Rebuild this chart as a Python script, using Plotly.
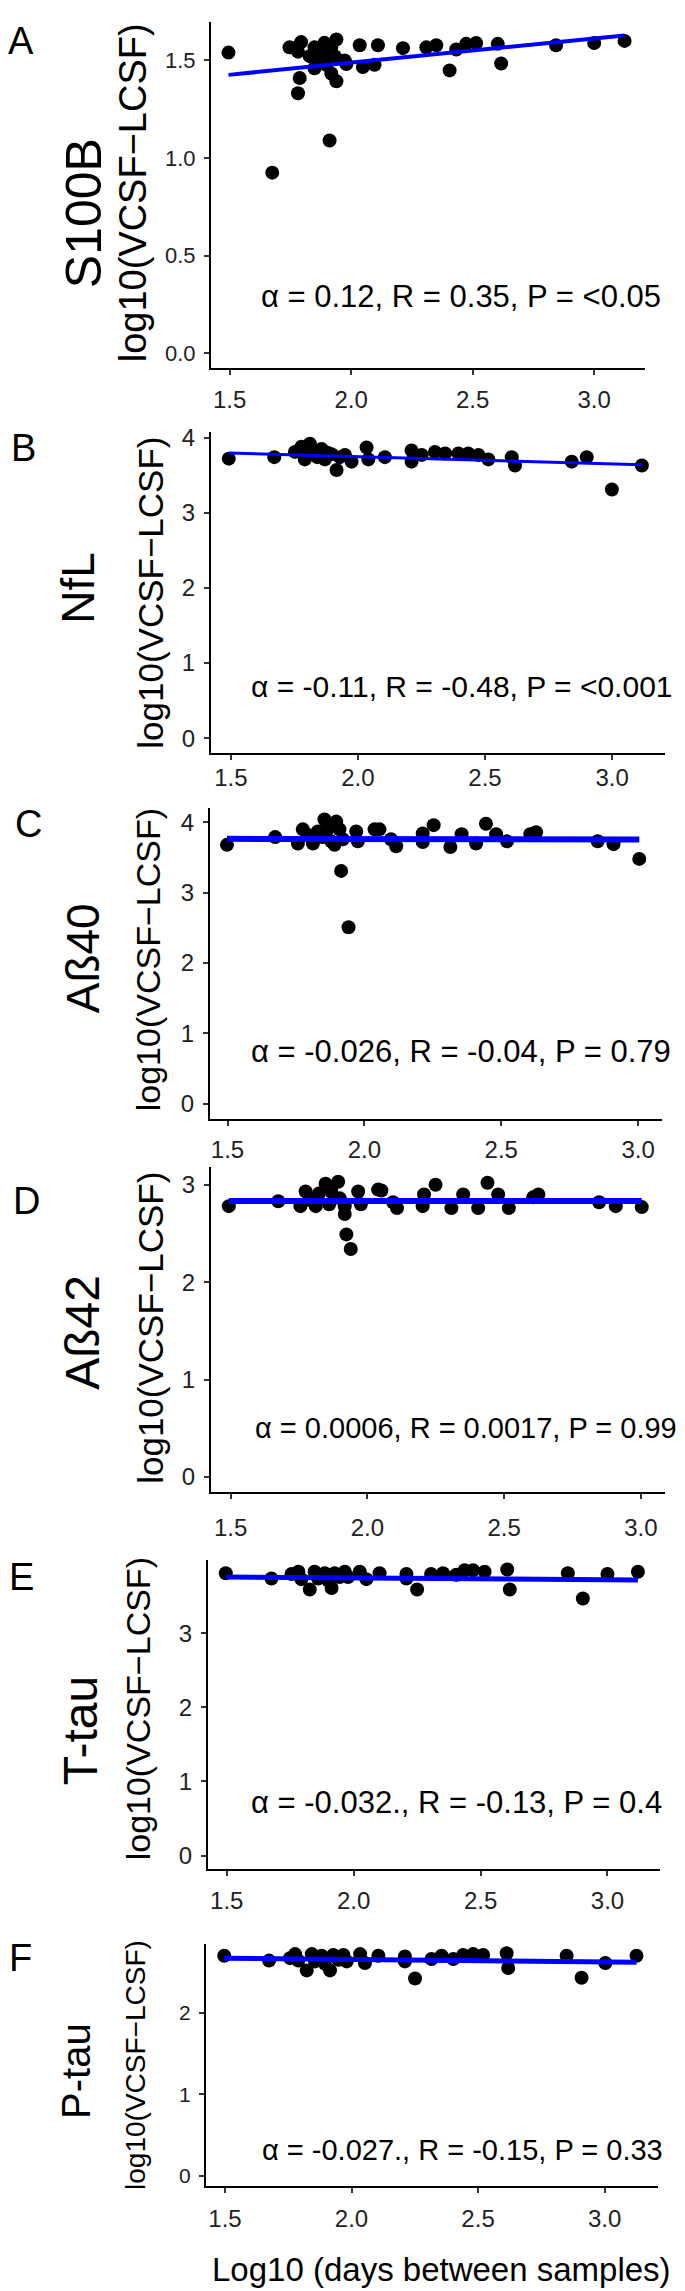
import plotly.graph_objects as go

# ---------------- data ----------------
panel_names = ["S100B", "NfL", "Aß40", "Aß42", "T-tau", "P-tau"]
panel_letters = ["A", "B", "C", "D", "E", "F"]
stat_texts = [
    "α = 0.12, R = 0.35, P = <0.05",
    "α = -0.11, R = -0.48, P = <0.001",
    "α = -0.026, R = -0.04, P = 0.79",
    "α = 0.0006, R = 0.0017, P = 0.99",
    "α = -0.032., R = -0.13, P = 0.4",
    "α = -0.027., R = -0.15, P = 0.33",
]
x_tickvals = [1.5, 2.0, 2.5, 3.0]
x_ticktext = ["1.5", "2.0", "2.5", "3.0"]
y_tickvals_A = [0.0, 0.5, 1.0, 1.5]
y_ticktext_A = ["0.0", "0.5", "1.0", "1.5"]
y_tickvals_BC = [0, 1, 2, 3, 4]
y_tickvals_DE = [0, 1, 2, 3]
y_tickvals_F = [0, 1, 2]

A_x = [1.495, 1.675, 1.746, 1.767, 1.794, 1.781, 1.788, 1.781, 1.829, 1.849, 1.862, 1.849, 1.883,
       1.890, 1.897, 1.918, 1.939, 1.932, 1.918, 1.939, 1.911, 1.973, 1.980, 2.035, 2.048, 2.096,
       2.110, 2.213, 2.309, 2.350, 2.405, 2.432, 2.473, 2.514, 2.603, 2.617, 2.843, 3.000, 3.125]
A_y = [1.540, 0.925, 1.567, 1.563, 1.594, 1.545, 1.410, 1.332, 1.522, 1.567, 1.500, 1.460, 1.534,
       1.590, 1.478, 1.567, 1.607, 1.522, 1.433, 1.393, 1.090, 1.500, 1.482, 1.578, 1.466, 1.478,
       1.578, 1.563, 1.567, 1.578, 1.449, 1.556, 1.585, 1.589, 1.585, 1.484, 1.578, 1.589, 1.600]
A_line_x = [1.495, 3.125]
A_line_y = [1.426, 1.628]

B_x = [1.492, 1.671, 1.752, 1.778, 1.811, 1.791, 1.831, 1.857, 1.870, 1.896, 1.916, 1.929, 1.949,
       1.975, 2.034, 2.041, 2.106, 2.211, 2.211, 2.251, 2.303, 2.343, 2.395, 2.434, 2.474, 2.513,
       2.605, 2.618, 2.841, 2.900, 2.999, 3.117, 1.800, 1.840, 1.880]
B_y = [3.72, 3.74, 3.81, 3.88, 3.92, 3.71, 3.82, 3.85, 3.71, 3.78, 3.57, 3.74, 3.77,
       3.68, 3.87, 3.71, 3.74, 3.83, 3.68, 3.77, 3.81, 3.79, 3.79, 3.79, 3.77, 3.71,
       3.74, 3.63, 3.68, 3.74, 3.31, 3.63, 3.76, 3.74, 3.80]
B_line_x = [1.492, 3.117]
B_line_y = [3.794, 3.639]

C_x = [1.498, 1.674, 1.757, 1.775, 1.794, 1.812, 1.830, 1.848, 1.854, 1.866, 1.879, 1.897, 1.891,
       1.909, 1.921, 1.915, 1.942, 1.970, 1.976, 2.037, 2.055, 2.097, 2.116, 2.213, 2.213, 2.253,
       2.314, 2.355, 2.408, 2.444, 2.481, 2.521, 2.606, 2.627, 2.852, 2.910, 3.004]
C_y = [3.68, 3.79, 3.70, 3.90, 3.82, 3.70, 3.87, 3.79, 4.04, 3.90, 3.73, 4.01, 3.68,
       3.90, 3.76, 3.31, 2.51, 3.87, 3.73, 3.90, 3.90, 3.76, 3.66, 3.84, 3.72, 3.96,
       3.65, 3.83, 3.70, 3.98, 3.83, 3.73, 3.83, 3.86, 3.73, 3.69, 3.48]
C_line_x = [1.498, 3.004]
C_line_y = [3.765, 3.755]

D_x = [1.493, 1.674, 1.755, 1.774, 1.792, 1.811, 1.823, 1.847, 1.860, 1.868, 1.893, 1.899, 1.917,
       1.917, 1.923, 1.939, 1.966, 1.976, 2.039, 2.051, 2.094, 2.108, 2.202, 2.207, 2.249, 2.307,
       2.350, 2.405, 2.439, 2.478, 2.517, 2.606, 2.625, 2.847, 2.908, 3.003]
D_y = [2.78, 2.83, 2.78, 2.93, 2.84, 2.78, 2.91, 3.01, 2.80, 2.93, 3.03, 2.86, 2.78,
       2.70, 2.49, 2.34, 2.93, 2.80, 2.95, 2.94, 2.82, 2.76, 2.78, 2.90, 3.00, 2.76,
       2.90, 2.76, 3.02, 2.90, 2.76, 2.87, 2.90, 2.82, 2.78, 2.77]
D_line_x = [1.493, 3.003]
D_line_y = [2.833, 2.833]

E_x = [1.496, 1.676, 1.755, 1.782, 1.794, 1.827, 1.846, 1.860, 1.886, 1.900, 1.913, 1.925, 1.945,
       1.965, 1.978, 2.024, 2.050, 2.102, 2.208, 2.208, 2.250, 2.305, 2.352, 2.404, 2.437, 2.470,
       2.516, 2.605, 2.615, 2.844, 2.903, 3.000, 3.120]
E_y = [3.81, 3.74, 3.80, 3.83, 3.73, 3.59, 3.83, 3.74, 3.81, 3.71, 3.61, 3.81, 3.76,
       3.83, 3.76, 3.83, 3.73, 3.81, 3.80, 3.74, 3.59, 3.80, 3.81, 3.79, 3.85, 3.85,
       3.83, 3.86, 3.59, 3.81, 3.47, 3.80, 3.83]
E_line_x = [1.496, 3.120]
E_line_y = [3.76, 3.72]

F_x = [1.497, 1.674, 1.757, 1.777, 1.790, 1.823, 1.843, 1.856, 1.882, 1.895, 1.915, 1.928, 1.948,
       1.968, 1.981, 2.034, 2.053, 2.106, 2.211, 2.211, 2.251, 2.316, 2.356, 2.402, 2.441, 2.481,
       2.520, 2.613, 2.619, 2.850, 2.909, 3.003, 3.126]
F_y = [2.70, 2.64, 2.67, 2.72, 2.64, 2.52, 2.72, 2.63, 2.70, 2.60, 2.52, 2.71, 2.65,
       2.71, 2.63, 2.72, 2.61, 2.70, 2.69, 2.63, 2.42, 2.66, 2.70, 2.66, 2.71, 2.72,
       2.71, 2.73, 2.55, 2.70, 2.43, 2.61, 2.70]
F_line_x = [1.497, 3.126]
F_line_y = [2.67, 2.62]

x_title = "Log10 (days between samples)"
y_title = "log10(VCSF\u2212LCSF)"

# ---------------- layout / styling ----------------
W, H = 685, 2291
FONT = "Liberation Sans, Arial, sans-serif"

series = [
    (A_x, A_y, A_line_x, A_line_y, y_tickvals_A, y_ticktext_A),
    (B_x, B_y, B_line_x, B_line_y, y_tickvals_BC, None),
    (C_x, C_y, C_line_x, C_line_y, y_tickvals_BC, None),
    (D_x, D_y, D_line_x, D_line_y, y_tickvals_DE, None),
    (E_x, E_y, E_line_x, E_line_y, y_tickvals_DE, None),
    (F_x, F_y, F_line_x, F_line_y, y_tickvals_F, None),
]

# pixel geometry of each panel: plot box (x0, x1, ytop, ybottom), axis ranges, text positions/sizes
geom = [
    dict(box=(203, 637, 6, 353), xr=(1.423, 3.209), yr=(-0.074, 1.697), lw=4, xs=5,
         letter=(13, 25), name=(76, 198), nsz=50, ytl=(125, 178), tsz=38,
         stat=(251, 282), ssz=31, xtsz=24, ytsz=22),
    dict(box=(203, 657, 418, 740), xr=(1.422, 3.208), yr=(-0.198, 4.07), lw=3, xs=-3,
         letter=(15, 434), name=(70, 574), nsz=46, ytl=(143, 579), tsz=35,
         stat=(241, 673), ssz=30, xtsz=24, ytsz=24),
    dict(box=(202, 654, 795, 1107), xr=(1.436, 3.087), yr=(-0.21, 4.205), lw=6, xs=4,
         letter=(20, 811), name=(75, 946), nsz=46, ytl=(140, 948), tsz=34,
         stat=(241, 1040), ssz=31, xtsz=24, ytsz=24),
    dict(box=(203, 657, 1156, 1482), xr=(1.428, 3.088), yr=(-0.156, 3.177), lw=6, xs=8,
         letter=(18, 1190), name=(75, 1322), nsz=48, ytl=(143, 1317), tsz=35,
         stat=(245, 1418), ssz=29, xtsz=24, ytsz=24),
    dict(box=(200, 652, 1550, 1860), xr=(1.426, 3.207), yr=(-0.178, 3.99), lw=5, xs=5,
         letter=(13, 1567), name=(72, 1722), nsz=48, ytl=(130, 1700), tsz=34,
         stat=(241, 1794), ssz=31, xtsz=24, ytsz=24),
    dict(box=(198, 650, 1936, 2179), xr=(1.425, 3.211), yr=(-0.132, 2.839), lw=5, xs=5,
         letter=(12, 1950), name=(68, 2063), nsz=40, ytl=(128, 2057), tsz=28,
         stat=(252, 2142), ssz=29, xtsz=24, ytsz=21),
]
x_title_pos = (433, 2262)


def px(x):
    return x / W


def py(y):
    return 1 - y / H


fig = go.Figure()
annotations = []
layout_axes = {}

for i, ((xs, ys, lx, ly, ytv, ytt), g) in enumerate(zip(series, geom)):
    n = i + 1
    xa = "x" if n == 1 else f"x{n}"
    ya = "y" if n == 1 else f"y{n}"
    fig.add_trace(go.Scatter(x=xs, y=ys, mode="markers", xaxis=xa, yaxis=ya,
                             marker=dict(color="black", size=14, line=dict(width=0)),
                             showlegend=False, hoverinfo="skip"))
    fig.add_trace(go.Scatter(x=lx, y=ly, mode="lines", xaxis=xa, yaxis=ya,
                             line=dict(color="#0000FF", width=g["lw"]),
                             showlegend=False, hoverinfo="skip"))
    x0, x1, y0, y1 = g["box"]
    xkey = "xaxis" if n == 1 else f"xaxis{n}"
    ykey = "yaxis" if n == 1 else f"yaxis{n}"
    layout_axes[xkey] = dict(
        domain=[px(x0), px(x1)], range=list(g["xr"]), anchor=ya,
        showline=True, linecolor="black", linewidth=2, showgrid=False, zeroline=False,
        ticks="outside", ticklen=5, tickwidth=1.5, tickcolor="#333333",
        tickvals=x_tickvals, ticktext=x_ticktext, ticklabelstandoff=g["xs"],
        tickfont=dict(family=FONT, size=g["xtsz"], color="#222222"), fixedrange=True)
    layout_axes[ykey] = dict(
        domain=[py(y1), py(y0)], range=list(g["yr"]), anchor=xa,
        showline=True, linecolor="black", linewidth=2, showgrid=False, zeroline=False,
        ticks="outside", ticklen=5, tickwidth=1.5, tickcolor="#333333",
        tickvals=ytv, ticktext=ytt if ytt else [str(v) for v in ytv], ticklabelstandoff=4,
        tickfont=dict(family=FONT, size=g["ytsz"], color="#222222"), fixedrange=True)

    lx_, ly_ = g["letter"]
    annotations.append(dict(text=panel_letters[i], x=px(lx_), y=py(ly_), xref="paper", yref="paper",
                            showarrow=False, xanchor="center", yanchor="middle",
                            font=dict(family=FONT, size=38, color="black")))
    nx_, ny_ = g["name"]
    annotations.append(dict(text=panel_names[i], x=px(nx_), y=py(ny_), xref="paper", yref="paper",
                            showarrow=False, xanchor="center", yanchor="middle", textangle=-90,
                            font=dict(family=FONT, size=g["nsz"], color="black")))
    tx_, ty_ = g["ytl"]
    annotations.append(dict(text=y_title, x=px(tx_), y=py(ty_), xref="paper", yref="paper",
                            showarrow=False, xanchor="center", yanchor="middle", textangle=-90,
                            font=dict(family=FONT, size=g["tsz"], color="black")))
    sx_, sy_ = g["stat"]
    annotations.append(dict(text=stat_texts[i], x=px(sx_), y=py(sy_), xref="paper", yref="paper",
                            showarrow=False, xanchor="left", yanchor="middle",
                            font=dict(family=FONT, size=g["ssz"], color="black")))

annotations.append(dict(text=x_title, x=px(x_title_pos[0]), y=py(x_title_pos[1]),
                        xref="paper", yref="paper", showarrow=False,
                        xanchor="center", yanchor="middle",
                        font=dict(family=FONT, size=33, color="black")))

fig.update_layout(width=W, height=H, margin=dict(l=0, r=0, t=0, b=0),
                  paper_bgcolor="white", plot_bgcolor="white",
                  annotations=annotations, **layout_axes)

fig.write_html("out.html")
